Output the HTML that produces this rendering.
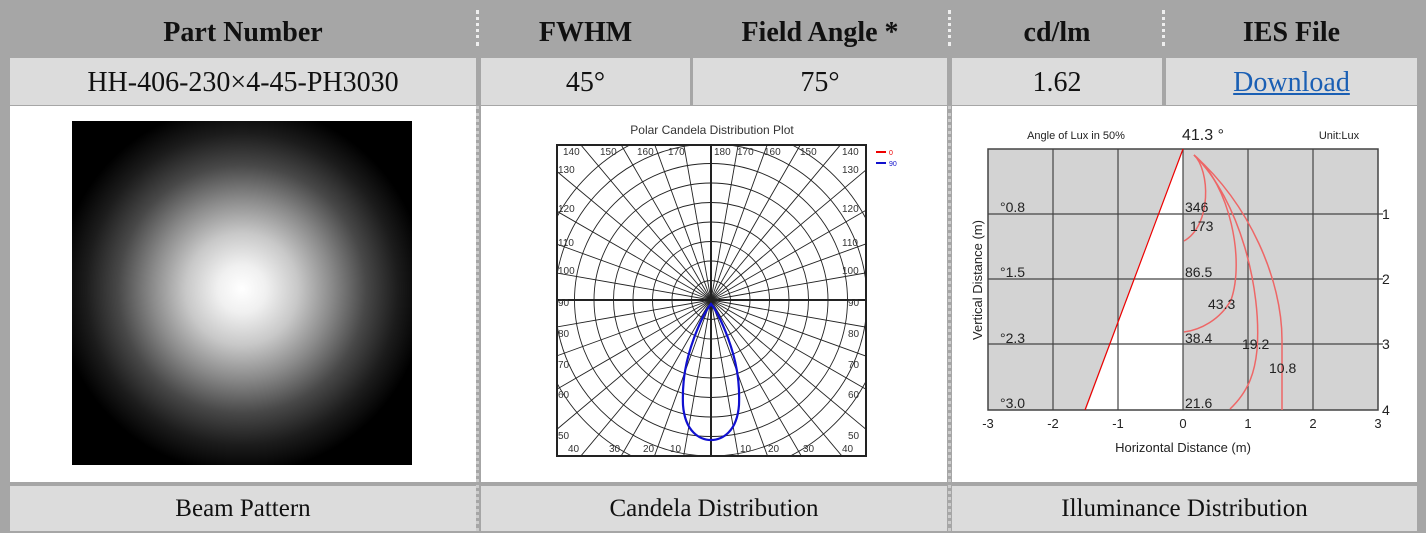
<!DOCTYPE html>
<html><head><meta charset="utf-8"><style>
body{margin:0;width:1426px;height:533px;background:#a6a6a6;position:relative;overflow:hidden;font-family:"Liberation Serif",serif;}
.c{position:absolute;display:flex;align-items:center;justify-content:center;font-size:28px;color:#111;}
.h{font-weight:bold;}
.l{background:#dcdcdc;}
.w{background:#fff;}
.sep{position:absolute;width:3px;border-left:3px dotted #eee;}
</style></head><body>
<div class="c h" style="left:10px;top:9px;width:466px;height:48px">Part Number</div>
<div class="c h" style="left:481px;top:9px;width:209px;height:48px">FWHM</div>
<div class="c h" style="left:693px;top:9px;width:254px;height:48px">Field Angle *</div>
<div class="c h" style="left:952px;top:9px;width:210px;height:48px">cd/lm</div>
<div class="c h" style="left:1166px;top:9px;width:251px;height:48px">IES File</div>
<div class="sep" style="left:476px;top:10px;height:36px"></div>
<div class="sep" style="left:948px;top:10px;height:36px"></div>
<div class="sep" style="left:1162px;top:10px;height:36px"></div>

<div class="c l" style="left:10px;top:58px;width:466px;height:45px;padding-top:2px">HH-406-230×4-45-PH3030</div>
<div class="c l" style="left:481px;top:58px;width:209px;height:45px;padding-top:2px">45°</div>
<div class="c l" style="left:693px;top:58px;width:254px;height:45px;padding-top:2px">75°</div>
<div class="c l" style="left:952px;top:58px;width:210px;height:45px;padding-top:2px">1.62</div>
<div class="c l" style="left:1166px;top:58px;width:251px;height:45px;padding-top:2px"><span style="color:#1a5fb4;text-decoration:underline">Download</span></div>

<div class="c w" style="left:10px;top:106px;width:466px;height:376px"></div>
<div class="c w" style="left:481px;top:106px;width:466px;height:376px"></div>
<div class="c w" style="left:952px;top:106px;width:465px;height:376px"></div>
<div class="sep" style="left:476px;top:106px;height:425px;border-color:#ccc"></div>
<div class="sep" style="left:948px;top:106px;height:425px;border-color:#ccc"></div>

<div style="position:absolute;left:72px;top:121px;width:340px;height:344px;background:radial-gradient(circle 200px at 170px 168px,#fff 0%,#f0f0f0 12%,#c8c8c8 28%,#8a8a8a 45%,#484848 62%,#1c1c1c 78%,#000 92%)"></div>

<svg style="position:absolute;left:0;top:0" width="1426" height="533" font-family="Liberation Sans, sans-serif">
<defs><clipPath id="pc"><rect x="557" y="145" width="309" height="311"/></clipPath></defs>
<text x="712" y="134" font-size="12" text-anchor="middle" fill="#333">Polar Candela Distribution Plot</text>
<g clip-path="url(#pc)" stroke="#222" fill="none" stroke-width="0.9">
<circle cx="711" cy="300" r="19.5"/><circle cx="711" cy="300" r="39"/><circle cx="711" cy="300" r="58.5"/><circle cx="711" cy="300" r="78"/><circle cx="711" cy="300" r="97.5"/><circle cx="711" cy="300" r="117"/><circle cx="711" cy="300" r="136.5"/><circle cx="711" cy="300" r="156"/><circle cx="711" cy="300" r="175"/>
<g id="rad">
<line x1="711" y1="300" x2="711" y2="80"/><line x1="711" y1="300" x2="749" y2="83"/><line x1="711" y1="300" x2="786" y2="93"/><line x1="711" y1="300" x2="821" y2="109"/><line x1="711" y1="300" x2="852" y2="131"/><line x1="711" y1="300" x2="879" y2="159"/><line x1="711" y1="300" x2="901" y2="190"/><line x1="711" y1="300" x2="918" y2="225"/><line x1="711" y1="300" x2="928" y2="262"/>
</g>
<use href="#rad" transform="rotate(90 711 300)"/><use href="#rad" transform="rotate(180 711 300)"/><use href="#rad" transform="rotate(270 711 300)"/>
</g>
<rect x="557" y="145" width="309" height="311" fill="none" stroke="#222" stroke-width="2"/>
<line x1="557" y1="300" x2="866" y2="300" stroke="#222" stroke-width="2"/>
<line x1="711" y1="145" x2="711" y2="456" stroke="#222" stroke-width="2"/>
<path d="M711,304 C706,310 700,322 694,338 C686,360 682,380 683,405 C685,432 700,440 711,440 C722,440 737,432 739,405 C740,380 736,360 728,338 C722,322 716,310 711,304Z" fill="none" stroke="#1010d0" stroke-width="2.2"/>
<g font-size="10" fill="#333">
<text x="563" y="155">140</text><text x="600" y="155">150</text><text x="637" y="155">160</text><text x="668" y="155">170</text><text x="714" y="155">180</text><text x="737" y="155">170</text><text x="764" y="155">160</text><text x="800" y="155">150</text><text x="842" y="155">140</text>
<text x="558" y="173">130</text><text x="842" y="173">130</text>
<text x="558" y="212">120</text><text x="842" y="212">120</text>
<text x="558" y="246">110</text><text x="842" y="246">110</text>
<text x="558" y="274">100</text><text x="842" y="274">100</text>
<text x="558" y="306">90</text><text x="848" y="306">90</text>
<text x="558" y="337">80</text><text x="848" y="337">80</text>
<text x="558" y="368">70</text><text x="848" y="368">70</text>
<text x="558" y="398">60</text><text x="848" y="398">60</text>
<text x="558" y="439">50</text><text x="848" y="439">50</text>
<text x="568" y="452">40</text><text x="609" y="452">30</text><text x="643" y="452">20</text><text x="670" y="452">10</text><text x="740" y="452">10</text><text x="768" y="452">20</text><text x="803" y="452">30</text><text x="842" y="452">40</text>
</g>
<line x1="876" y1="152" x2="886" y2="152" stroke="#e00" stroke-width="2"/><text x="889" y="155" font-size="7" fill="#e00">0</text>
<line x1="876" y1="163" x2="886" y2="163" stroke="#11c" stroke-width="2"/><text x="889" y="166" font-size="7" fill="#11c">90</text>

<rect x="988" y="149" width="390" height="261" fill="#d3d3d3"/>
<polygon points="1183,149 1086,410 1183,410" fill="#fff"/>
<g stroke="#444" stroke-width="1.2">
<line x1="1053" y1="149" x2="1053" y2="410"/><line x1="1118" y1="149" x2="1118" y2="410"/><line x1="1183" y1="149" x2="1183" y2="410"/><line x1="1248" y1="149" x2="1248" y2="410"/><line x1="1313" y1="149" x2="1313" y2="410"/>
<line x1="988" y1="214" x2="1383" y2="214"/><line x1="988" y1="279" x2="1383" y2="279"/><line x1="988" y1="344" x2="1383" y2="344"/>
</g>
<rect x="988" y="149" width="390" height="261" fill="none" stroke="#444" stroke-width="1.5"/>
<line x1="1183" y1="149" x2="1085" y2="410" stroke="#e00" stroke-width="1.2"/>
<g fill="none" stroke="#e66" stroke-width="1.5">
<path d="M1194,155 C1210,170 1212,225 1184,241"/>
<path d="M1194,155 C1230,185 1245,260 1231,300 C1220,320 1200,330 1184,332"/>
<path d="M1194,155 C1240,200 1262,290 1257,350 C1255,370 1250,390 1230,409"/>
<path d="M1194,155 C1250,205 1282,280 1282,340 L1282,410"/>
</g>
<g font-size="14" fill="#222">
<text x="1185" y="212">346</text><text x="1190" y="231">173</text><text x="1185" y="277">86.5</text><text x="1208" y="309">43.3</text><text x="1185" y="343">38.4</text><text x="1242" y="349">19.2</text><text x="1269" y="373">10.8</text><text x="1185" y="408">21.6</text>
<text x="1000" y="212">°0.8</text><text x="1000" y="277">°1.5</text><text x="1000" y="343">°2.3</text><text x="1000" y="408">°3.0</text>
<text x="1382" y="219">1</text><text x="1382" y="284">2</text><text x="1382" y="349">3</text><text x="1382" y="415">4</text>
</g>
<g font-size="13" fill="#222" text-anchor="middle">
<text x="988" y="428">-3</text><text x="1053" y="428">-2</text><text x="1118" y="428">-1</text><text x="1183" y="428">0</text><text x="1248" y="428">1</text><text x="1313" y="428">2</text><text x="1378" y="428">3</text>
<text x="1183" y="452">Horizontal Distance (m)</text>
<text x="0" y="0" transform="translate(982,280) rotate(-90)">Vertical Distance (m)</text>
</g>
<text x="1076" y="139" font-size="11" fill="#222" text-anchor="middle">Angle of Lux in 50%</text>
<text x="1203" y="140" font-size="16" fill="#222" text-anchor="middle">41.3 °</text>
<text x="1339" y="139" font-size="11" fill="#222" text-anchor="middle">Unit:Lux</text>
</svg>

<div class="c l" style="left:10px;top:486px;width:466px;height:45px;font-size:25px">Beam Pattern</div>
<div class="c l" style="left:481px;top:486px;width:466px;height:45px;font-size:25px">Candela Distribution</div>
<div class="c l" style="left:952px;top:486px;width:465px;height:45px;font-size:25px">Illuminance Distribution</div>
</body></html>
